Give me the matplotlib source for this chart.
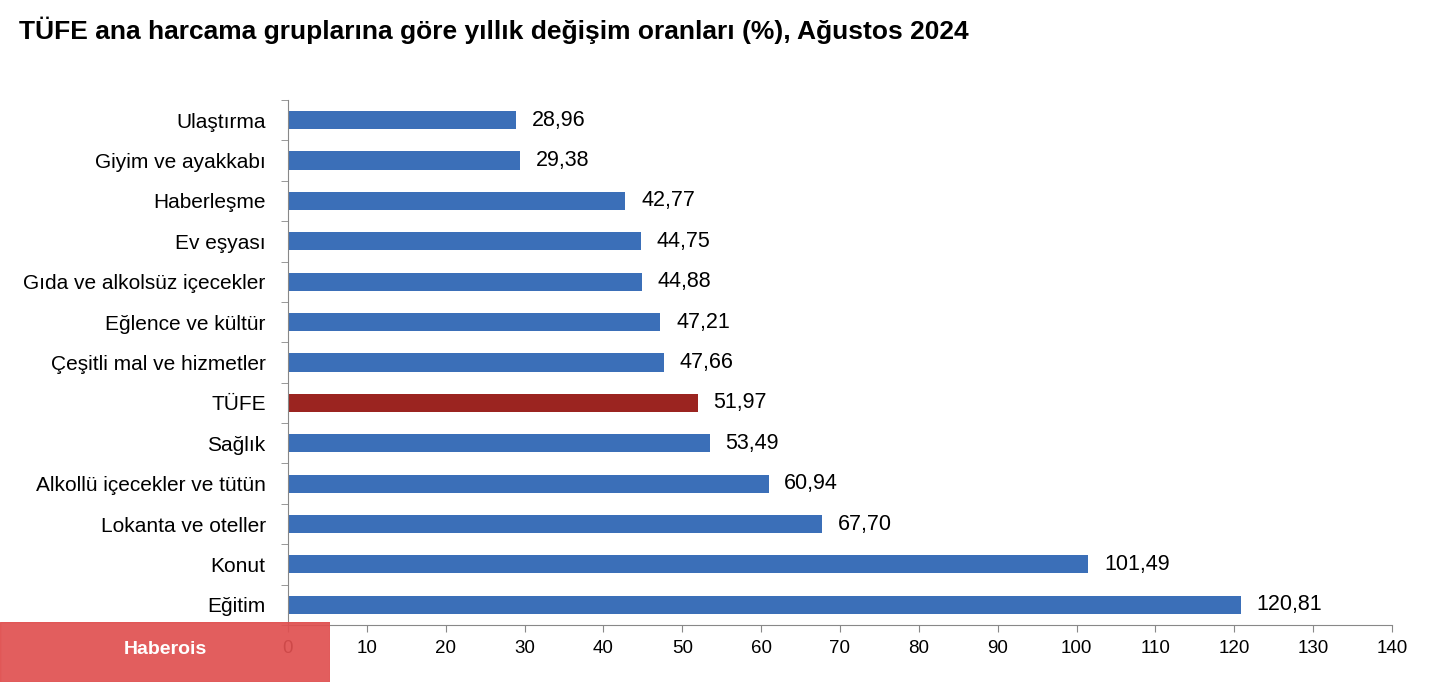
import matplotlib
matplotlib.use("Agg")
import matplotlib.pyplot as plt

categories = ["Ulaştırma", "Giyim ve ayakkabı", "Haberleşme", "Ev eşyası",
              "Gıda ve alkolsüz içecekler", "Eğlence ve kültür",
              "Çeşitli mal ve hizmetler", "TÜFE", "Sağlık",
              "Alkollü içecekler ve tütün", "Lokanta ve oteller", "Konut", "Eğitim"]
values = [28.96, 29.38, 42.77, 44.75, 44.88, 47.21, 47.66, 51.97, 53.49,
          60.94, 67.70, 101.49, 120.81]
xticks = list(range(0, 141, 10))

plt.rcParams["font.family"] = "Liberation Sans"
fig = plt.figure(figsize=(14.34, 6.82), dpi=100)
ax = fig.add_axes([0.2008, 0.0836, 0.7699, 0.7698])

colors = ["#9b2420" if c == "TÜFE" else "#3b6fb8" for c in categories]
y = list(range(len(categories)))
ax.barh(y, values, height=0.45, color=colors)
ax.set_ylim(len(categories) - 0.5, -0.5)
ax.set_xlim(0, 140)
ax.set_yticks(y)
ax.set_yticklabels(categories, fontsize=15)
ax.set_yticks([i - 0.5 for i in range(len(categories) + 1)], minor=True)
ax.tick_params(axis="y", which="major", length=0, pad=16)
ax.tick_params(axis="y", which="minor", length=5, color="#888888")
ax.set_xticks(xticks)
ax.set_xticklabels([str(t) for t in xticks], fontsize=13.5)
ax.tick_params(axis="x", length=5, color="#888888", pad=6)
for s in ["top", "right"]:
    ax.spines[s].set_visible(False)
for s in ["left", "bottom"]:
    ax.spines[s].set_color("#888888")
for yi, v in zip(y, values):
    ax.text(v + 2, yi, f"{v:.2f}".replace(".", ","), va="center", ha="left", fontsize=15.5)

fig.text(0.013, 0.955, "TÜFE ana harcama gruplarına göre yıllık değişim oranları (%), Ağustos 2024",
         fontsize=19, fontweight="bold", va="center")

box = fig.add_axes([0, 0, 330 / 1434, 60 / 682])
box.patch.set_alpha(0.0)
box.axvspan(0, 1, color="#e05050", alpha=0.92)
box.set_xlim(0, 1)
box.set_xticks([]); box.set_yticks([])
for s in box.spines.values():
    s.set_visible(False)
box.text(0.5, 0.55, "Haberois", color="white", fontsize=14, fontweight="bold",
         ha="center", va="center", transform=box.transAxes)

fig.savefig("out.png", dpi=100)
